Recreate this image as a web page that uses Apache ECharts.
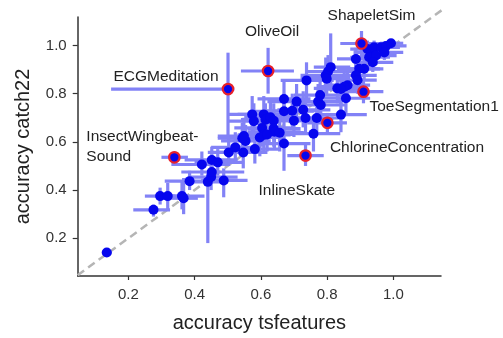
<!DOCTYPE html>
<html><head><meta charset="utf-8">
<script src="https://cdn.jsdelivr.net/npm/echarts@6/dist/echarts.min.js"></script>
<style>html,body{margin:0;padding:0;background:#fff}#c{width:503px;height:338px}</style>
</head><body><div id="c"></div>
<script>
// ---- data ----
const tsf   = [0.135,0.276,0.296,0.319,0.362,0.367,0.385,0.44,0.488,0.45,0.452,0.422,0.452,0.47,0.503,0.523,0.547,0.582,0.554,0.544,0.738,0.796,0.803,0.811,0.779,0.773,0.67,0.708,0.831,0.67,0.695,0.728,0.735,0.70,0.769,0.759,0.574,0.609,0.614,0.629,0.639,0.579,0.549,0.604,0.609,0.597,0.639,0.641,0.657,0.67,0.619,0.922,0.932,0.942,0.927,0.948,0.963,0.978,0.993,0.973,0.938,0.912,0.897,0.887,0.887,0.892,0.862,0.852,0.842,0.857,0.842,0.799,0.781];
const c22   = [0.141,0.318,0.375,0.375,0.375,0.366,0.437,0.434,0.44,0.454,0.475,0.506,0.525,0.515,0.556,0.577,0.556,0.57,0.604,0.615,0.855,0.876,0.892,0.91,0.794,0.767,0.778,0.767,0.822,0.727,0.729,0.733,0.699,0.688,0.699,0.634,0.714,0.714,0.692,0.702,0.688,0.686,0.624,0.658,0.629,0.618,0.655,0.642,0.638,0.593,0.631,0.985,0.971,0.992,0.951,0.958,0.992,0.998,1.009,0.971,0.93,0.903,0.903,0.944,0.876,0.856,0.835,0.829,0.819,0.781,0.713,0.862,0.753];
const tsfLo = [0.12,0.215,0.25,0.28,0.30,0.33,0.31,0.39,0.42,0.38,0.36,0.33,0.37,0.40,0.44,0.45,0.47,0.50,0.48,0.47,0.66,0.72,0.74,0.76,0.70,0.70,0.59,0.62,0.76,0.58,0.61,0.65,0.65,0.62,0.69,0.68,0.50,0.53,0.54,0.55,0.56,0.50,0.47,0.52,0.53,0.52,0.56,0.56,0.58,0.59,0.54,0.87,0.88,0.89,0.87,0.90,0.92,0.94,0.96,0.93,0.88,0.85,0.83,0.83,0.82,0.83,0.79,0.78,0.77,0.78,0.77,0.72,0.70];
const tsfHi = [0.15,0.326,0.34,0.38,0.43,0.41,0.46,0.50,0.56,0.53,0.55,0.50,0.53,0.55,0.58,0.60,0.62,0.66,0.63,0.62,0.82,0.86,0.88,0.87,0.86,0.84,0.75,0.80,0.90,0.76,0.78,0.81,0.82,0.78,0.85,0.84,0.65,0.69,0.69,0.71,0.72,0.66,0.63,0.69,0.69,0.67,0.72,0.72,0.73,0.75,0.70,0.98,0.99,1.00,0.99,1.01,1.02,1.04,1.03,1.03,1.00,0.97,0.96,0.95,0.95,0.95,0.93,0.92,0.92,0.93,0.92,0.87,0.86];
const c22Lo = [0.135,0.29,0.34,0.32,0.32,0.30,0.40,0.18,0.37,0.40,0.43,0.46,0.47,0.46,0.50,0.52,0.49,0.51,0.54,0.55,0.78,0.80,0.82,0.84,0.72,0.70,0.70,0.69,0.76,0.66,0.66,0.66,0.63,0.62,0.63,0.56,0.64,0.64,0.62,0.63,0.61,0.61,0.55,0.58,0.55,0.54,0.58,0.57,0.56,0.48,0.56,0.95,0.93,0.96,0.91,0.92,0.97,0.98,0.995,0.94,0.89,0.86,0.86,0.90,0.82,0.80,0.78,0.77,0.75,0.72,0.64,0.79,0.68];
const c22Hi = [0.147,0.34,0.41,0.43,0.44,0.45,0.48,0.48,0.49,0.50,0.53,0.56,0.58,0.57,0.62,0.64,0.62,0.63,0.67,0.68,0.93,0.95,0.96,1.05,0.87,0.84,0.85,0.84,0.88,0.80,0.80,0.81,0.77,0.76,0.77,0.71,0.79,0.79,0.76,0.77,0.76,0.76,0.70,0.73,0.70,0.69,0.73,0.71,0.71,0.66,0.70,1.02,1.01,1.02,0.99,0.99,1.01,1.01,1.015,0.99,0.97,0.95,0.95,0.99,0.93,0.91,0.89,0.89,0.88,0.84,0.78,0.93,0.82];

const hlNames = ['ShapeletSim','OliveOil','ECGMeditation','ToeSegmentation1','ChlorineConcentration','InlineSkate','InsectWingbeat-\nSound'];
const hlTsf   = [0.904,0.622,0.501,0.91,0.801,0.735,0.339];
const hlC22   = [1.008,0.894,0.819,0.808,0.679,0.543,0.536];
const hlTsfLo = [0.84,0.54,0.148,0.85,0.74,0.68,0.30];
const hlTsfHi = [0.96,0.70,0.52,0.97,0.86,0.79,0.38];
const hlC22Lo = [0.95,0.80,0.62,0.76,0.64,0.50,0.51];
const hlC22Hi = [1.06,0.99,0.97,0.86,0.72,0.59,0.56];

const tickValues = [0.2,0.4,0.6,0.8,1.0];
const diagonal = [[0.047,0.047],[1.15,1.15]];

// ---- styles (label placement relative to each highlighted point) ----
const hlLabelStyle = [
  {align:'center', offset:[10,-28]},
  {align:'center', offset:[4,-39]},
  {align:'center', offset:[-62,-12]},
  {align:'left',   offset:[6,15]},
  {align:'left',   offset:[2.5,24.5]},
  {align:'left',   offset:[-47,35]},
  {align:'left',   offset:[-88,-11]}
];

const errRows = tsf.map((v,i)=>[v,c22[i],tsfLo[i],tsfHi[i],c22Lo[i],c22Hi[i]])
  .concat(hlTsf.map((v,i)=>[v,hlC22[i],hlTsfLo[i],hlTsfHi[i],hlC22Lo[i],hlC22Hi[i]]));

const barColor = '#8282f6';
const dotColor = '#0606ee';
const FONT = 'Liberation Sans, Arial, sans-serif';

const chart = echarts.init(document.getElementById('c'), null, {renderer:'canvas'});
chart.setOption({
  animation:false,
  backgroundColor:'#fff',
  grid:{left:77.7, top:17, width:363.3, height:263.7, containLabel:false},
  xAxis:{
    type:'value', min:0.0472, max:1.144,
    name:'accuracy tsfeatures', nameLocation:'middle', nameGap:37,
    nameTextStyle:{fontFamily:FONT, fontSize:20, color:'#222'},
    axisLine:{show:true, onZero:false, lineStyle:{color:'#333', width:1.5}},
    axisTick:{show:true, length:4, customValues:tickValues, lineStyle:{color:'#333', width:1.2}},
    axisLabel:{customValues:tickValues, margin:11, fontFamily:FONT, fontSize:15, color:'#333', formatter:v=>v.toFixed(1)},
    splitLine:{show:false}
  },
  yAxis:{
    type:'value', min:0.0435, max:1.118,
    name:'accuracy catch22', nameLocation:'middle', nameGap:44, nameRotate:90,
    nameTextStyle:{fontFamily:FONT, fontSize:20, color:'#222'},
    axisLine:{show:true, onZero:false, lineStyle:{color:'#333', width:1.5}},
    axisTick:{show:true, length:5, customValues:tickValues, lineStyle:{color:'#333', width:1.2}},
    axisLabel:{customValues:tickValues, margin:11, fontFamily:FONT, fontSize:15, color:'#333', formatter:v=>v.toFixed(1)},
    splitLine:{show:false}
  },
  series:[
    {
      type:'line', data:diagonal, symbol:'none', clip:false, silent:true, z:1,
      lineStyle:{color:'#b5b5b5', width:2.5, type:[8,5]}
    },
    {
      type:'custom', z:2, clip:false, data:errRows, encode:{x:0,y:1},
      renderItem:function(params, api){
        const x=api.value(0), y=api.value(1);
        const a=api.coord([api.value(2),y]), b=api.coord([api.value(3),y]);
        const c=api.coord([x,api.value(4)]), d=api.coord([x,api.value(5)]);
        const style={stroke:barColor, lineWidth:3.2};
        return {type:'group', children:[
          {type:'line', shape:{x1:a[0],y1:a[1],x2:b[0],y2:b[1]}, style:style},
          {type:'line', shape:{x1:c[0],y1:c[1],x2:d[0],y2:d[1]}, style:style}
        ]};
      }
    },
    {
      type:'scatter', z:3, symbol:'circle', symbolSize:10,
      data:tsf.map((v,i)=>[v,c22[i]]),
      itemStyle:{color:dotColor, opacity:1}
    },
    {
      type:'scatter', z:4, symbol:'circle', symbolSize:10.5,
      data:hlTsf.map((v,i)=>({
        value:[v,hlC22[i]], name:hlNames[i],
        label:{show:true, position:'inside', formatter:hlNames[i],
               align:hlLabelStyle[i].align, verticalAlign:'middle', offset:hlLabelStyle[i].offset,
               fontFamily:FONT, fontSize:15.5, color:'#222', lineHeight:20}
      })),
      itemStyle:{color:dotColor, borderColor:'#e8202a', borderWidth:2.2, opacity:1}
    }
  ]
});
</script>
</body></html>
